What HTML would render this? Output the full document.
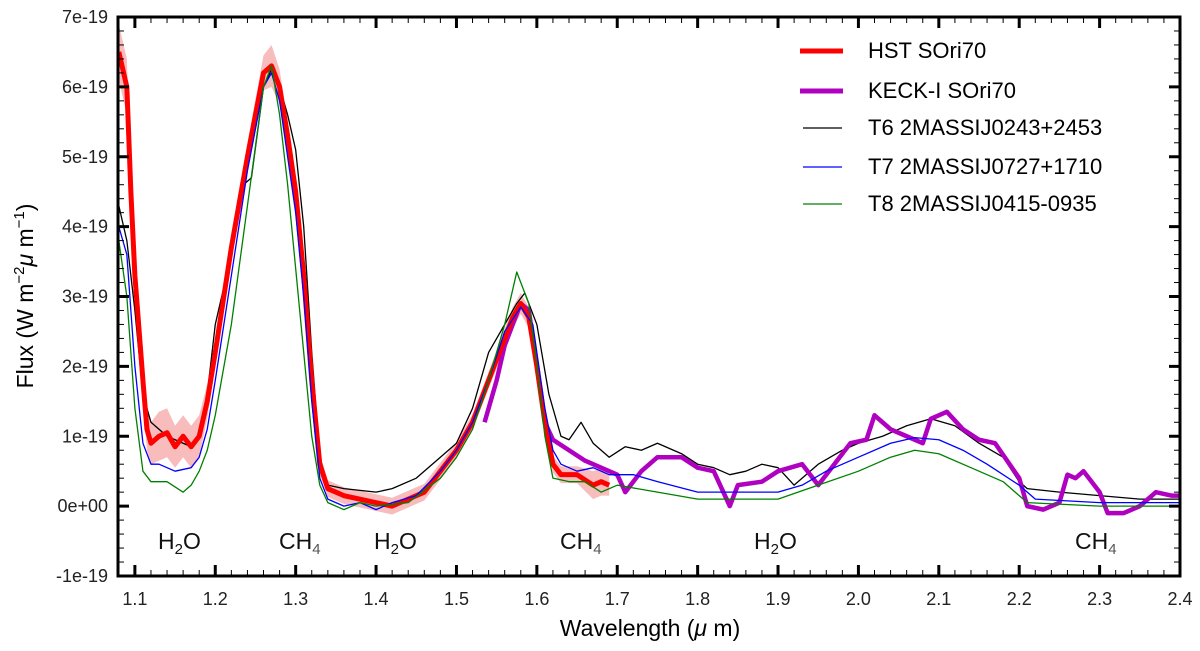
<!DOCTYPE html>
<html><head><meta charset="utf-8"><style>
body{margin:0;background:#fff}
svg text{font-family:"Liberation Sans",sans-serif}
</style></head><body>
<svg id="chart" width="1200" height="646" xmlns="http://www.w3.org/2000/svg">
<g id="band"></g>
<g id="series"></g>
<g id="axes"></g>
<g font-size="22">
<line x1="800" y1="51" x2="843" y2="51" stroke="#ff0000" stroke-width="5"/><text x="868" y="58">HST SOri70</text>
<line x1="800" y1="91" x2="843" y2="91" stroke="#b000c0" stroke-width="5"/><text x="868" y="98">KECK-I SOri70</text>
<line x1="803" y1="128" x2="842" y2="128" stroke="#000" stroke-width="1.2"/><text x="868" y="135">T6 2MASSIJ0243+2453</text>
<line x1="803" y1="167" x2="842" y2="167" stroke="#0000ff" stroke-width="1.2"/><text x="868" y="174">T7 2MASSIJ0727+1710</text>
<line x1="803" y1="204" x2="842" y2="204" stroke="#008000" stroke-width="1.2"/><text x="868" y="211">T8 2MASSIJ0415-0935</text>
</g>
<g font-size="23" fill="#111">
<text x="158" y="549">H<tspan font-size="15" dy="5">2</tspan><tspan dy="-5">O</tspan></text>
<text x="279" y="549">CH<tspan font-size="15" dy="5" fill="#555">4</tspan></text>
<text x="374" y="549">H<tspan font-size="15" dy="5">2</tspan><tspan dy="-5">O</tspan></text>
<text x="560" y="549">CH<tspan font-size="15" dy="5" fill="#555">4</tspan></text>
<text x="754" y="549">H<tspan font-size="15" dy="5">2</tspan><tspan dy="-5">O</tspan></text>
<text x="1075" y="549">CH<tspan font-size="15" dy="5" fill="#555">4</tspan></text>
</g>
<text x="650" y="636" font-size="23" text-anchor="middle">Wavelength (<tspan font-style="italic">μ</tspan> m)</text>
<text transform="translate(33,296) rotate(-90)" font-size="23" text-anchor="middle">Flux (W m<tspan font-size="15" dy="-9">−2</tspan><tspan dy="9" font-style="italic">μ</tspan> m<tspan font-size="15" dy="-9">−1</tspan><tspan dy="9">)</tspan></text>
</svg>
<script>
const hstWl=[1.08,1.09,1.095,1.10,1.11,1.115,1.12,1.13,1.14,1.15,1.16,1.17,1.18,1.19,1.20,1.22,1.24,1.26,1.27,1.28,1.29,1.30,1.31,1.32,1.33,1.34,1.36,1.38,1.40,1.42,1.44,1.46,1.48,1.50,1.52,1.54,1.56,1.57,1.58,1.59,1.60,1.61,1.62,1.63,1.65,1.67,1.68,1.69];
const hstFlux=[6.5,6.0,4.5,3.3,1.8,1.1,0.9,1.0,1.05,0.85,1.0,0.85,1.0,1.5,2.2,3.7,5.0,6.2,6.3,6.0,5.3,4.5,3.3,1.8,0.6,0.25,0.15,0.1,0.05,0.0,0.1,0.2,0.5,0.8,1.2,1.8,2.4,2.7,2.9,2.7,2.0,1.2,0.6,0.45,0.45,0.3,0.35,0.3];
const hstErr=[0.4,0.4,0.3,0.3,0.3,0.3,0.3,0.35,0.35,0.3,0.3,0.3,0.3,0.25,0.2,0.2,0.2,0.25,0.3,0.25,0.2,0.2,0.2,0.2,0.15,0.12,0.12,0.12,0.12,0.12,0.12,0.12,0.12,0.12,0.12,0.12,0.15,0.15,0.15,0.15,0.15,0.12,0.12,0.12,0.12,0.2,0.2,0.15];
const keckWl=[1.535,1.55,1.56,1.57,1.58,1.59,1.60,1.61,1.62,1.64,1.66,1.68,1.70,1.71,1.73,1.75,1.78,1.80,1.82,1.84,1.85,1.88,1.90,1.93,1.95,1.97,1.99,2.01,2.02,2.04,2.06,2.08,2.09,2.11,2.13,2.15,2.17,2.20,2.21,2.23,2.25,2.26,2.27,2.28,2.30,2.31,2.33,2.35,2.37,2.39,2.40];
const keckFlux=[1.2,1.8,2.3,2.6,2.9,2.8,2.0,1.2,0.95,0.8,0.65,0.55,0.45,0.2,0.5,0.7,0.7,0.55,0.5,0.0,0.3,0.35,0.5,0.6,0.3,0.6,0.9,0.95,1.3,1.1,1.0,0.9,1.25,1.35,1.1,0.95,0.9,0.4,0.0,-0.05,0.05,0.45,0.4,0.5,0.2,-0.1,-0.1,0.0,0.2,0.15,0.15];
const t6Wl=[1.08,1.09,1.10,1.11,1.12,1.13,1.14,1.16,1.17,1.18,1.19,1.20,1.22,1.235,1.245,1.26,1.27,1.28,1.29,1.30,1.31,1.32,1.33,1.34,1.36,1.40,1.42,1.45,1.48,1.50,1.52,1.54,1.56,1.575,1.585,1.60,1.615,1.63,1.64,1.655,1.67,1.69,1.71,1.73,1.75,1.78,1.80,1.82,1.84,1.86,1.88,1.90,1.92,1.95,1.98,2.00,2.03,2.06,2.09,2.12,2.15,2.18,2.20,2.21,2.25,2.30,2.35,2.40];
const t6Flux=[4.3,3.8,2.8,1.6,1.2,1.1,1.0,0.9,0.85,1.0,1.6,2.6,3.6,4.6,4.7,6.0,6.25,6.0,5.6,5.1,4.0,2.2,0.7,0.3,0.25,0.2,0.25,0.4,0.7,0.9,1.4,2.2,2.6,2.9,3.05,2.6,1.6,1.0,0.95,1.2,0.9,0.7,0.85,0.8,0.9,0.75,0.6,0.55,0.45,0.5,0.6,0.55,0.3,0.6,0.8,0.9,1.0,1.15,1.25,1.15,0.9,0.7,0.35,0.25,0.2,0.15,0.1,0.1];
const t7Wl=[1.08,1.09,1.10,1.11,1.12,1.13,1.15,1.17,1.18,1.19,1.20,1.22,1.24,1.26,1.27,1.28,1.29,1.30,1.31,1.32,1.33,1.34,1.36,1.38,1.40,1.42,1.45,1.48,1.50,1.52,1.54,1.56,1.58,1.595,1.61,1.62,1.63,1.65,1.67,1.69,1.72,1.75,1.80,1.85,1.90,1.93,1.96,2.00,2.04,2.07,2.10,2.13,2.16,2.20,2.22,2.30,2.40];
const t7Flux=[4.0,3.6,2.0,0.9,0.6,0.6,0.5,0.55,0.7,1.1,1.8,3.3,4.8,6.0,6.2,5.8,5.0,4.2,3.0,1.5,0.4,0.1,0.0,0.05,-0.05,0.05,0.15,0.5,0.8,1.2,1.8,2.5,2.85,2.6,1.4,0.8,0.6,0.5,0.55,0.45,0.45,0.35,0.2,0.2,0.2,0.3,0.5,0.7,0.9,0.98,0.95,0.8,0.6,0.3,0.1,0.05,0.05];
const t8Wl=[1.08,1.09,1.10,1.11,1.12,1.14,1.16,1.17,1.18,1.19,1.20,1.22,1.24,1.26,1.27,1.28,1.29,1.30,1.31,1.32,1.33,1.34,1.36,1.38,1.40,1.44,1.48,1.50,1.52,1.54,1.56,1.575,1.59,1.60,1.61,1.62,1.64,1.66,1.68,1.70,1.75,1.80,1.85,1.90,1.95,2.00,2.04,2.07,2.10,2.14,2.18,2.21,2.30,2.40];
const t8Flux=[3.8,3.0,1.4,0.5,0.35,0.35,0.2,0.3,0.5,0.8,1.3,2.6,4.3,6.0,6.3,5.6,4.6,3.4,2.2,1.0,0.3,0.05,-0.05,0.05,0.0,0.05,0.4,0.7,1.1,1.8,2.6,3.35,2.9,2.0,1.0,0.4,0.35,0.35,0.2,0.3,0.2,0.1,0.1,0.1,0.3,0.5,0.7,0.8,0.75,0.55,0.35,0.05,0.0,0.0];
const xTicks=[1.1,1.2,1.3,1.4,1.5,1.6,1.7,1.8,1.9,2.0,2.1,2.2,2.3,2.4];
const xTickLabels=["1.1","1.2","1.3","1.4","1.5","1.6","1.7","1.8","1.9","2.0","2.1","2.2","2.3","2.4"];
const yTicks=[-1,0,1,2,3,4,5,6,7];
const yTickLabels=["-1e-19","0e+00","1e-19","2e-19","3e-19","4e-19","5e-19","6e-19","7e-19"];

const NS="http://www.w3.org/2000/svg";
const L=118,R=1180,T=17,B=576,XMIN=1.079,XMAX=2.4,YMIN=-1,YMAX=7;
const sx=v=>L+(v-XMIN)/(XMAX-XMIN)*(R-L);
const sy=v=>B-(v-YMIN)/(YMAX-YMIN)*(B-T);
function mk(tag,attrs,parent){const e=document.createElementNS(NS,tag);for(const k in attrs)e.setAttribute(k,attrs[k]);parent.appendChild(e);return e;}
const band=document.getElementById('band'),ser=document.getElementById('series'),ax=document.getElementById('axes');
let up=hstWl.map((w,i)=>sx(w)+','+sy(hstFlux[i]+hstErr[i]));
let dn=hstWl.map((w,i)=>sx(w)+','+sy(hstFlux[i]-hstErr[i])).reverse();
const bp=mk('polygon',{points:up.concat(dn).join(' '),fill:'#f7b5b5',opacity:'0.9'},band);


function line(wl,fl,color,w,name){const p=mk('polyline',{points:wl.map((x,i)=>sx(x)+','+sy(fl[i])).join(' '),fill:'none',stroke:color,'stroke-width':w,'stroke-linejoin':'round'},ser);

}
line(t6Wl,t6Flux,'#000',1.3,'t6-line');
line(keckWl,keckFlux,'#b000c0',4.5,'keck-line');
line(hstWl,hstFlux,'#ff0000',5,'hst-line');
line(t7Wl,t7Flux,'#0000ff',1.3,'t7-line');
line(t8Wl,t8Flux,'#008000',1.3,'t8-line');
const fr=mk('rect',{x:L,y:T,width:R-L,height:B-T,fill:'none',stroke:'#000','stroke-width':3},ax);


for(let v=1.08;v<=2.4001;v+=0.02){const x=sx(v);const major=xTicks.some(t=>Math.abs(t-v)<1e-6);const len=major?11:6,sw=major?3:1;
mk('line',{x1:x,y1:B,x2:x,y2:B-len,stroke:'#000','stroke-width':sw},ax);mk('line',{x1:x,y1:T,x2:x,y2:T+len,stroke:'#000','stroke-width':sw},ax);}
xTicks.forEach((v,i)=>{const t=mk('text',{x:sx(v),y:605,'font-size':18,'text-anchor':'middle',fill:'#222'},ax);t.textContent=xTickLabels[i];

});
for(let v=-1;v<=7.0001;v+=0.2){const y=sy(v);const major=Math.abs(v-Math.round(v))<1e-6;const len=major?11:6,sw=major?3:1;
mk('line',{x1:L,y1:y,x2:L+len,y2:y,stroke:'#000','stroke-width':sw},ax);mk('line',{x1:R,y1:y,x2:R-len,y2:y,stroke:'#000','stroke-width':sw},ax);}
yTicks.forEach((v,i)=>{const t=mk('text',{x:108,y:sy(v)+6,'font-size':18,'text-anchor':'end',fill:'#222'},ax);t.textContent=yTickLabels[i];

});
</script>
</body></html>
